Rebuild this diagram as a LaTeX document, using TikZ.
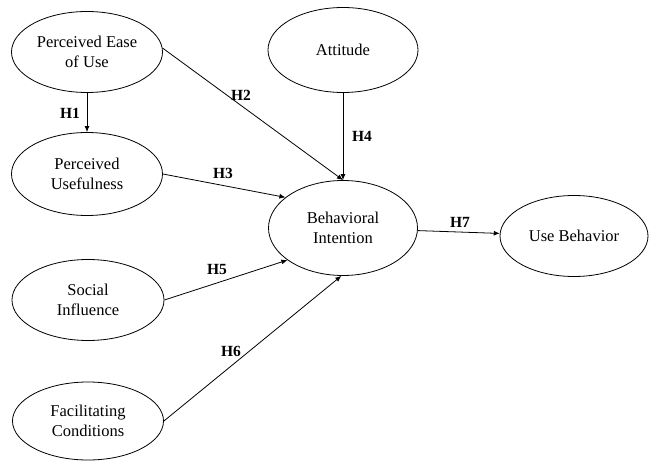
\documentclass[tikz,border=0pt]{standalone}
\usepackage{fontspec}
\setmainfont{Liberation Serif}
\usetikzlibrary{shapes.geometric,arrows.meta}
\begin{document}
\begin{tikzpicture}[x=1pt,y=1pt,
  construct/.style={draw, ellipse, line width=0.8pt, inner sep=0pt, align=center,
    font=\fontsize{16.5}{20.5}\selectfont},
  hyp/.style={font=\fontsize{15.5}{18}\selectfont\bfseries},
  link/.style={line width=0.8pt, -{Latex[length=6pt,width=5pt]}}]
\useasboundingbox (0,0) rectangle (652,469);
% nodes (y = 469 - pixel y)
\node[construct, minimum width=151, minimum height=81] (peou) at (87,417) {Perceived Ease\\of Use};
\node[construct, minimum width=151, minimum height=83] (pu) at (87,295) {Perceived\\Usefulness};
\node[construct, minimum width=150, minimum height=85] (att) at (343,419) {Attitude};
\node[construct, minimum width=149, minimum height=95] (bi) at (343,241) {Behavioral\\Intention};
\node[construct, minimum width=148, minimum height=81] (ub) at (574,233) {Use Behavior};
\node[construct, minimum width=152, minimum height=81] (si) at (88,169) {Social\\Influence};
\node[construct, minimum width=151, minimum height=78] (fc) at (88,48) {Facilitating\\Conditions};
% connectors
\draw[link] (peou) -- (pu);
\draw[link] (peou.3) -- (bi.north);
\draw[link] (att) -- (bi.north);
\draw[link] (pu.east) -- (bi.152);
\draw[link] (si.east) -- (bi.210);
\draw[link] (fc.east) -- (bi.268);
\draw[link] (bi) -- (ub);
% labels
\node[hyp] (h1) at (70,356) {H1};
\node[hyp] (h2) at (241,374) {H2};
\node[hyp] (h3) at (223,296) {H3};
\node[hyp] (h4) at (362,333) {H4};
\node[hyp] (h5) at (217,200) {H5};
\node[hyp] (h6) at (231,118) {H6};
\node[hyp] (h7) at (460,247) {H7};
\end{tikzpicture}
\end{document}
